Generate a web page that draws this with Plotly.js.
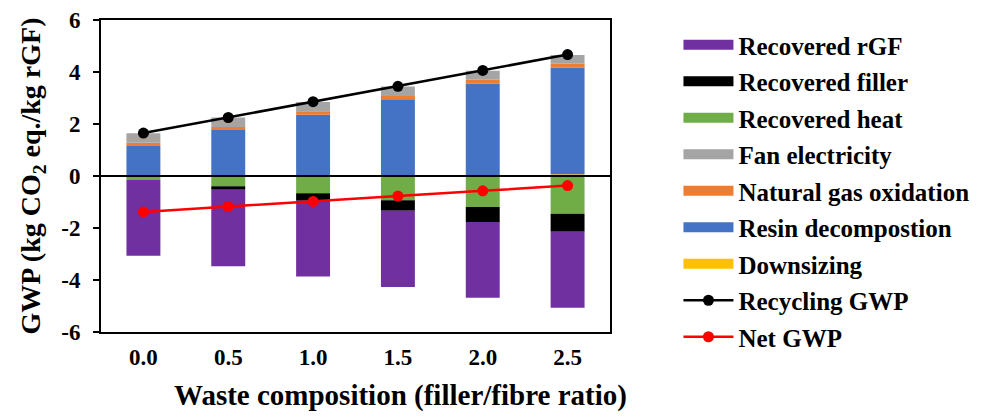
<!DOCTYPE html>
<html>
<head>
<meta charset="utf-8">
<script src="https://cdn.plot.ly/plotly-3.0.1.min.js"></script>
<style>
html,body{margin:0;padding:0;background:#fff;}
#chart{width:989px;height:419px;}
</style>
</head>
<body>
<div id="chart"></div>
<script>
// ---- data ----
const categories = ['0.0', '0.5', '1.0', '1.5', '2.0', '2.5'];
const recoveredRGF = [-2.92, -2.94, -2.92, -2.93, -2.91, -2.93];
const recoveredFiller = [0, -0.14, -0.29, -0.41, -0.58, -0.69];
const recoveredHeat = [-0.15, -0.39, -0.66, -0.93, -1.19, -1.45];
const fanElectricity = [0.36, 0.37, 0.36, 0.36, 0.35, 0.33];
const naturalGasOxidation = [0.13, 0.11, 0.13, 0.13, 0.14, 0.16];
const resinDecomposition = [1.15, 1.76, 2.35, 2.92, 3.52, 4.09];
const downsizing = [0, 0.01, 0.01, 0.03, 0.04, 0.07];
const recyclingGWP = [1.65, 2.25, 2.86, 3.45, 4.06, 4.67];
const netGWP = [-1.38, -1.17, -0.98, -0.77, -0.57, -0.37];

const yTickValues = [-6, -4, -2, 0, 2, 4, 6];
const yTickLabels = ['-6', '-4', '-2', '0', '2', '4', '6'];

const legendNames = ['Recovered rGF', 'Recovered filler', 'Recovered heat', 'Fan electricity',
  'Natural gas oxidation', 'Resin decompostion', 'Downsizing', 'Recycling GWP', 'Net GWP'];
const colors = {
  rgf: '#7030A0', filler: '#000000', heat: '#70AD47', fan: '#A5A5A5',
  gas: '#ED7D31', resin: '#4472C4', down: '#FFC000'
};

const FONT = 'Liberation Serif, Times New Roman, serif';

function bar(name, y, color) {
  return {
    type: 'bar', name: name, x: categories, y: y,
    marker: {color: color, line: {width: 0}},
    showlegend: false, hoverinfo: 'name+y'
  };
}
function legendBar(name, color, i) {
  return {
    type: 'scatter', mode: 'lines', name: name, x: [null], y: [null],
    line: {color: color, width: 12}, legendgroup: 'g' + i, showlegend: true
  };
}

const traces = [
  // negative stack: first trace sits next to zero
  bar('Recovered heat', recoveredHeat, colors.heat),
  bar('Recovered filler', recoveredFiller, colors.filler),
  bar('Recovered rGF', recoveredRGF, colors.rgf),
  // positive stack
  bar('Downsizing', downsizing, colors.down),
  bar('Resin decompostion', resinDecomposition, colors.resin),
  bar('Natural gas oxidation', naturalGasOxidation, colors.gas),
  bar('Fan electricity', fanElectricity, colors.fan),
  // legend swatches
  legendBar(legendNames[0], colors.rgf, 0),
  legendBar(legendNames[1], colors.filler, 1),
  legendBar(legendNames[2], colors.heat, 2),
  legendBar(legendNames[3], colors.fan, 3),
  legendBar(legendNames[4], colors.gas, 4),
  legendBar(legendNames[5], colors.resin, 5),
  legendBar(legendNames[6], colors.down, 6),
  {
    type: 'scatter', mode: 'lines+markers', name: legendNames[7], x: categories, y: recyclingGWP,
    line: {color: '#000000', width: 2.5}, marker: {color: '#000000', size: 11},
    legendgroup: 'g7'
  },
  {
    type: 'scatter', mode: 'lines+markers', name: legendNames[8], x: categories, y: netGWP,
    line: {color: '#FF0000', width: 2.5}, marker: {color: '#FF0000', size: 11},
    legendgroup: 'g8'
  }
];

const layout = {
  width: 989, height: 419,
  margin: {l: 101, r: 379, t: 20, b: 87},
  paper_bgcolor: '#ffffff', plot_bgcolor: '#ffffff',
  font: {family: FONT, size: 22, color: '#000000', weight: 'bold'},
  barmode: 'relative',
  bargap: 0.6,
  showlegend: true,
  legend: {
    xref: 'container', yref: 'container',
    x: 0.686, xanchor: 'left', y: 1 - 22 / 419, yanchor: 'top',
    font: {family: FONT, size: 25, color: '#000000', weight: 'bold'},
    itemwidth: 50, tracegroupgap: 1, bgcolor: 'rgba(0,0,0,0)', borderwidth: 0,
    traceorder: 'grouped', maxheight: 419
  },
  xaxis: {
    type: 'category', range: [-0.5, 5.5],
    showline: true, mirror: true, linecolor: '#000000', linewidth: 2,
    ticks: '', showgrid: false, zeroline: false,
    tickfont: {family: FONT, size: 23, color: '#000000', weight: 'bold'},
    ticklabelstandoff: 3
  },
  yaxis: {
    range: [-6, 6], tickmode: 'array', tickvals: yTickValues, ticktext: yTickLabels,
    showline: true, mirror: true, linecolor: '#000000', linewidth: 2,
    ticks: 'outside', ticklen: 6, tickwidth: 2, tickcolor: '#000000',
    showgrid: false, zeroline: true, zerolinecolor: '#000000', zerolinewidth: 2,
    zerolinelayer: 'above traces',
    tickfont: {family: FONT, size: 23, color: '#000000', weight: 'bold'},
    ticklabelstandoff: 8,
    title: {
      text: 'GWP (kg CO<sub>2</sub> eq./kg rGF)',
      font: {family: FONT, size: 28, color: '#000000', weight: 'bold'},
      standoff: 12
    }
  },
  annotations: [{
    text: 'Waste composition (filler/fibre ratio)',
    xref: 'paper', yref: 'paper', x: 0.588, y: -0.205,
    xanchor: 'center', yanchor: 'middle', showarrow: false,
    font: {family: FONT, size: 29, color: '#000000', weight: 'bold'}
  }]
};

Plotly.newPlot('chart', traces, layout, {displayModeBar: false, staticPlot: true});
</script>
</body>
</html>
